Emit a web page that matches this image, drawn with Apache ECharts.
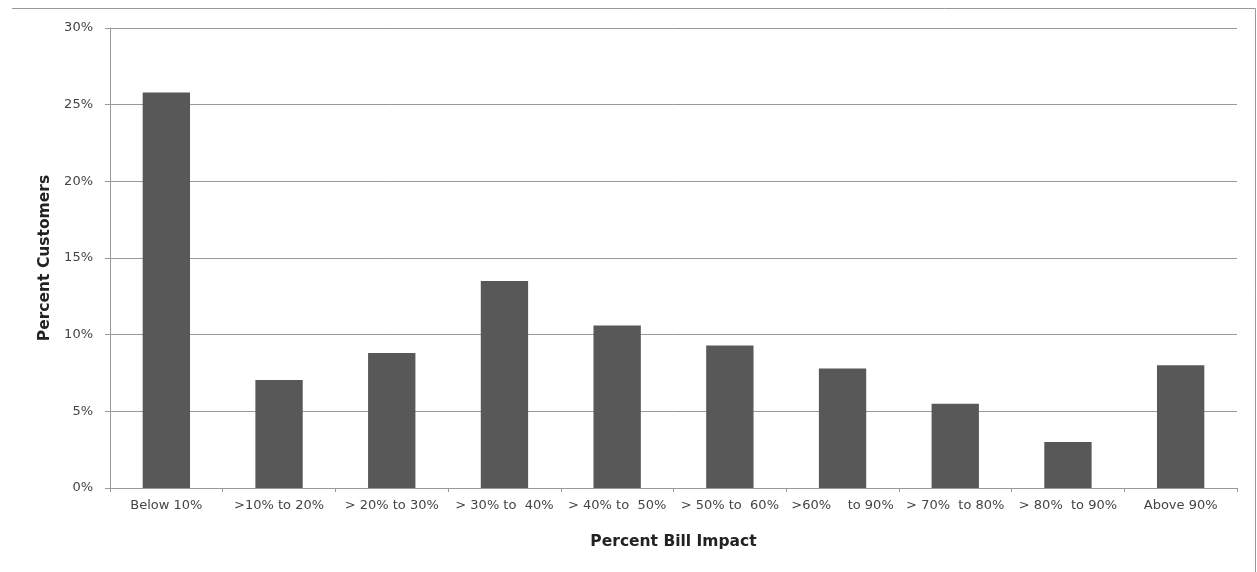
<!DOCTYPE html>
<html><head><meta charset="utf-8">
<script src="https://cdn.jsdelivr.net/npm/echarts@6/dist/echarts.min.js"></script>
<style>html,body{margin:0;padding:0;background:#fff}#c{width:1257px;height:572px}</style>
</head><body><div id="c"></div>
<script>
const categories = ['Below 10%', '>10% to 20%', '> 20% to 30%', '> 30% to  40%', '> 40% to  50%', '> 50% to  60%', '>60%    to 90%', '> 70%  to 80%', '> 80%  to 90%', 'Above 90%'];
const percentCustomers = [25.8, 7.05, 8.8, 13.5, 10.6, 9.3, 7.8, 5.5, 3.0, 8.0];
const yTicks = [0, 5, 10, 15, 20, 25, 30];

const chart = echarts.init(document.getElementById('c'));
chart.setOption({
  animation: false,
  backgroundColor: '#fff',
  textStyle: { fontFamily: 'DejaVu Sans' },
  grid: { left: 110, right: 20, top: 28, bottom: 84 },
  graphic: [
    { type: 'line', shape: { x1: 12, y1: 8.5, x2: 1255.5, y2: 8.5 }, style: { stroke: '#999', lineWidth: 1 }, silent: true },
    { type: 'line', shape: { x1: 1255.5, y1: 8.5, x2: 1255.5, y2: 572 }, style: { stroke: '#999', lineWidth: 1 }, silent: true }
  ],
  xAxis: {
    type: 'category', data: categories,
    name: 'Percent Bill Impact', nameLocation: 'middle', nameGap: 46,
    nameTextStyle: { fontWeight: 'bold', fontSize: 15.5, color: '#222' },
    axisLine: { lineStyle: { color: '#999' } },
    axisTick: { show: true, length: 4, lineStyle: { color: '#999' } },
    axisLabel: { color: '#444', fontSize: 13, margin: 11, interval: 0 }
  },
  yAxis: {
    type: 'value', min: yTicks[0], max: yTicks[yTicks.length - 1], interval: 5,
    name: 'Percent Customers', nameLocation: 'middle', nameGap: 57,
    nameTextStyle: { fontWeight: 'bold', fontSize: 15.5, color: '#222' },
    axisLine: { show: true, lineStyle: { color: '#999' } },
    axisTick: { show: true, length: 5, lineStyle: { color: '#999' } },
    axisLabel: { color: '#444', fontSize: 13, margin: 17, formatter: '{value}%' },
    splitLine: { lineStyle: { color: '#999', width: 1 } }
  },
  series: [{
    type: 'bar', data: percentCustomers, barWidth: '42%',
    itemStyle: { color: '#585858' }
  }]
});
</script></body></html>
